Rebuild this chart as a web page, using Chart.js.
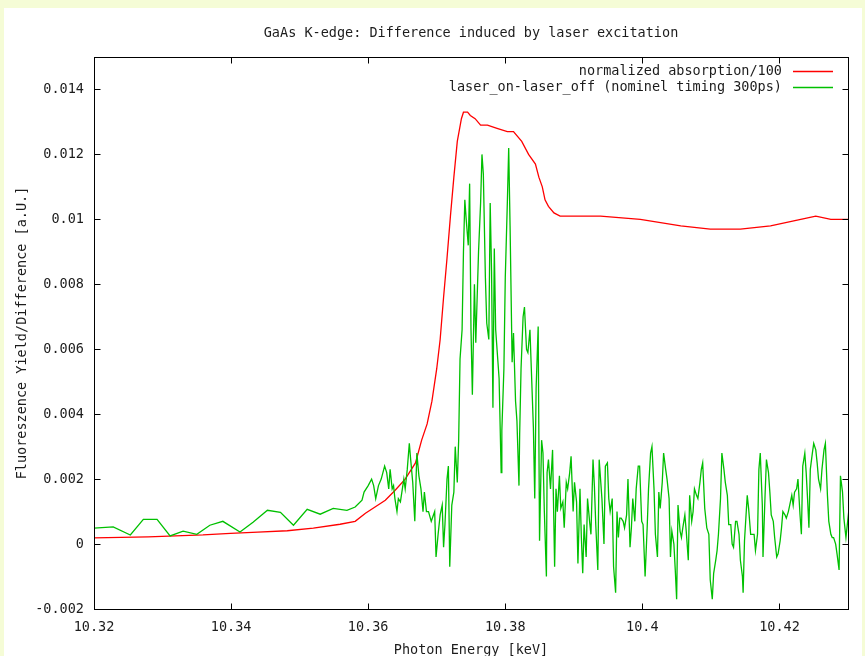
<!DOCTYPE html>
<html>
<head>
<meta charset="utf-8">
<title>GaAs K-edge</title>
<script src="https://cdn.jsdelivr.net/npm/chart.js@4.4.1/dist/chart.umd.min.js"></script>
<style>
  html, body { margin: 0; padding: 0; overflow: hidden; background: #f5fcd6; }
  canvas { display: block; }
</style>
</head>
<body>
<canvas id="edge" width="865" height="670"></canvas>
<script>
// normalized absorption (divided by 100), keV / a.U.
const absEnergy = [
  10.3200, 10.3279, 10.3359, 10.3399, 10.3439, 10.3482, 10.3520, 10.3559, 10.3581, 10.3596,
  10.3610, 10.3625, 10.3639, 10.3654, 10.3669, 10.3678, 10.3686, 10.3693, 10.3700, 10.3705,
  10.3710, 10.3715, 10.3720, 10.3725, 10.3730, 10.3736, 10.3739, 10.3745, 10.3749, 10.3756,
  10.3764, 10.3774, 10.3788, 10.3803, 10.3812, 10.3824, 10.3834, 10.3844, 10.3849, 10.3854,
  10.3858, 10.3863, 10.3871, 10.3880, 10.3902, 10.3939, 10.3997, 10.4056, 10.4099, 10.4143,
  10.4187, 10.4231, 10.4253, 10.4275, 10.4301
];
const absValue = [
  0.00019, 0.00022, 0.00028, 0.00033, 0.00037, 0.00041, 0.00049, 0.00061, 0.00070, 0.00095,
  0.00114, 0.00135, 0.00165, 0.0020, 0.0025, 0.0032, 0.0037, 0.0044, 0.0054, 0.0063,
  0.0076, 0.0088, 0.0101, 0.0113, 0.0124, 0.0131, 0.0133, 0.0133, 0.0132, 0.0131,
  0.0129, 0.0129, 0.0128, 0.0127, 0.0127, 0.0124, 0.0120, 0.0117, 0.0113, 0.0110,
  0.0106, 0.0104, 0.0102, 0.0101, 0.0101, 0.0101, 0.0100, 0.0098, 0.0097, 0.0097,
  0.0098, 0.0100, 0.0101, 0.0100, 0.0100
];

// laser_on - laser_off difference
const diffEnergy = [
  10.3200, 10.3228, 10.3253, 10.3272, 10.3292, 10.3311, 10.3330, 10.3350, 10.3369, 10.3388,
  10.3413, 10.3432, 10.3453, 10.3472, 10.3491, 10.3511, 10.3530, 10.3549, 10.3569, 10.3581,
  10.3591, 10.3594, 10.3600, 10.3605, 10.3608, 10.3611, 10.3615, 10.3619, 10.3624, 10.3627,
  10.3630, 10.3632, 10.3635, 10.3637, 10.3639, 10.3642, 10.3644, 10.3647, 10.3652, 10.3654,
  10.3657, 10.3660, 10.3662, 10.3665, 10.3668, 10.3671, 10.3674, 10.3677, 10.3680, 10.3682,
  10.3685, 10.3688, 10.3692, 10.3697, 10.3699, 10.3702, 10.3705, 10.3708, 10.3710, 10.3712,
  10.3715, 10.3717, 10.3719, 10.3722, 10.3725, 10.3727, 10.3730, 10.3732, 10.3734, 10.3737,
  10.3739, 10.3741, 10.3743, 10.3746, 10.3748, 10.3750, 10.3752, 10.3755, 10.3757, 10.3761,
  10.3764, 10.3766, 10.3768, 10.3771, 10.3773, 10.3776, 10.3778, 10.3780, 10.3782, 10.3784,
  10.3786, 10.3789, 10.3791, 10.3794, 10.3795, 10.3798, 10.3800, 10.3803, 10.3805, 10.3807,
  10.3810, 10.3812, 10.3815, 10.3817, 10.3820, 10.3821, 10.3823, 10.3826, 10.3828, 10.3831,
  10.3833, 10.3836, 10.3838, 10.3841, 10.3843, 10.3845, 10.3848, 10.3850, 10.3853, 10.3855,
  10.3857, 10.3860, 10.3861, 10.3863, 10.3866, 10.3869, 10.3872, 10.3874, 10.3876, 10.3879,
  10.3881, 10.3884, 10.3886, 10.3889, 10.3891, 10.3894, 10.3896, 10.3899, 10.3901, 10.3904,
  10.3906, 10.3909, 10.3911, 10.3913, 10.3915, 10.3918, 10.3920, 10.3923, 10.3925, 10.3928,
  10.3930, 10.3932, 10.3935, 10.3937, 10.3941, 10.3944, 10.3946, 10.3949, 10.3951, 10.3953,
  10.3956, 10.3958, 10.3961, 10.3963, 10.3965, 10.3967, 10.3969, 10.3972, 10.3974, 10.3977,
  10.3979, 10.3982, 10.3984, 10.3986, 10.3989, 10.3991, 10.3994, 10.3996, 10.3999, 10.4001,
  10.4004, 10.4007, 10.4009, 10.4012, 10.4014, 10.4017, 10.4019, 10.4022, 10.4024, 10.4026,
  10.4029, 10.4031, 10.4034, 10.4036, 10.4039, 10.4041, 10.4043, 10.4046, 10.4048, 10.4050,
  10.4052, 10.4055, 10.4057, 10.4059, 10.4062, 10.4064, 10.4067, 10.4069, 10.4072, 10.4074,
  10.4076, 10.4079, 10.4081, 10.4084, 10.4086, 10.4088, 10.4091, 10.4094, 10.4097, 10.4099,
  10.4102, 10.4104, 10.4107, 10.4109, 10.4111, 10.4114, 10.4116, 10.4119, 10.4121, 10.4124,
  10.4126, 10.4129, 10.4131, 10.4133, 10.4136, 10.4138, 10.4141, 10.4143, 10.4146, 10.4147,
  10.4149, 10.4151, 10.4153, 10.4155, 10.4158, 10.4160, 10.4163, 10.4165, 10.4168, 10.4170,
  10.4172, 10.4175, 10.4176, 10.4179, 10.4181, 10.4184, 10.4186, 10.4188, 10.4191, 10.4193,
  10.4196, 10.4198, 10.4201, 10.4203, 10.4205, 10.4208, 10.4210, 10.4213, 10.4215, 10.4218,
  10.4220, 10.4222, 10.4225, 10.4227, 10.4230, 10.4232, 10.4234, 10.4237, 10.4239, 10.4241,
  10.4243, 10.4245, 10.4248, 10.4250, 10.4253, 10.4255, 10.4257, 10.4260, 10.4262, 10.4265,
  10.4267, 10.4270, 10.4272, 10.4275, 10.4277, 10.4279, 10.4282, 10.4284, 10.4287, 10.4289,
  10.4292, 10.4294, 10.4297, 10.4299, 10.4301
];
const diffValue = [
  0.00049, 0.00053, 0.00028, 0.00076, 0.00076, 0.00025, 0.00040, 0.00030, 0.00058, 0.00070,
  0.00037, 0.00067, 0.00104, 0.00098, 0.00058, 0.00107, 0.00092, 0.00110, 0.00104, 0.00114,
  0.00135, 0.0016, 0.0018, 0.0020, 0.0018, 0.0014, 0.0018, 0.0020, 0.0024, 0.0022,
  0.0017, 0.0023, 0.0017, 0.0018, 0.0014, 0.0010, 0.0014, 0.0013, 0.0020, 0.0017,
  0.0023, 0.0031, 0.0026, 0.0019, 0.0007, 0.0028, 0.0021, 0.0017, 0.0010, 0.0016,
  0.0010, 0.0010, 0.0007, 0.0010, -0.0004, 0.0003, 0.0009, 0.0012, -0.0001, 0.0006,
  0.0020, 0.0024, -0.0007, 0.0012, 0.0016, 0.0030, 0.0019, 0.0032, 0.0057, 0.0066,
  0.0090, 0.0106, 0.0100, 0.0092, 0.0111, 0.0066, 0.0046, 0.0080, 0.0062, 0.0090,
  0.0105, 0.0120, 0.0114, 0.0082, 0.0068, 0.0063, 0.0105, 0.0084, 0.0042, 0.0091,
  0.0066, 0.0057, 0.0051, 0.0022, 0.0035, 0.0054, 0.0082, 0.0105, 0.0122, 0.0098,
  0.0056, 0.0065, 0.0044, 0.0038, 0.0018, 0.0034, 0.0054, 0.0070, 0.0073, 0.0060,
  0.0059, 0.0066, 0.0054, 0.0036, 0.0014, 0.0048, 0.0067, 0.0001, 0.0032, 0.0028,
  0.0010, -0.0010, 0.0022, 0.0026, 0.0017, 0.0029, -0.0007, 0.0017, 0.0010, 0.0021,
  0.0011, 0.0013, 0.0005, 0.0019, 0.0017, 0.0022, 0.0027, 0.0010, 0.0019, 0.0013,
  -0.0006, 0.0017, 0.0002, -0.0009, 0.0006, -0.0004, 0.0014, 0.0007, 0.0003, 0.0026,
  0.0018, 0.0006, -0.0008, 0.0026, 0.0014, 0.0000, 0.0024, 0.0025, 0.0014, 0.0010,
  0.0014, -0.0007, -0.0015, 0.0010, 0.0002, 0.0008, 0.0008, 0.0007, 0.0005, 0.0009,
  0.0020, -0.0001, 0.0005, 0.0014, 0.0007, 0.0017, 0.0024, 0.0024, 0.0007, 0.0006,
  -0.0010, 0.0005, 0.0017, 0.0028, 0.0030, 0.0017, 0.0003, -0.0004, 0.0016, 0.0011,
  0.0019, 0.0028, 0.0023, 0.0020, 0.0014, -0.0004, 0.0004, 0.0000, -0.0008, -0.0017,
  0.0012, 0.0004, 0.0002, 0.0005, 0.0009, 0.0004, -0.0005, 0.0015, 0.0007, 0.0010,
  0.0017, 0.0015, 0.0014, 0.0019, 0.0023, 0.0025, 0.0011, 0.0005, 0.0003, -0.0011,
  -0.0017, -0.0009, -0.0005, -0.0002, 0.0003, 0.0014, 0.0028, 0.0023, 0.0019, 0.0015,
  0.0006, 0.0006, 0.0000, -0.0001, 0.0007, 0.0007, 0.0003, -0.0005, -0.0010, -0.0015,
  0.0001, 0.0008, 0.0015, 0.0011, 0.0003, 0.0003, 0.0003, -0.0002, 0.0003, 0.0023,
  0.0028, 0.0012, -0.0004, 0.0015, 0.0026, 0.0022, 0.0016, 0.0009, 0.0007, 0.0002,
  -0.0004, -0.0003, 0.0001, 0.0005, 0.0010, 0.0009, 0.0008, 0.0010, 0.0012, 0.0015,
  0.0012, 0.0016, 0.0017, 0.0020, 0.0009, 0.0003, 0.0024, 0.0028, 0.0022, 0.0014,
  0.0005, 0.0023, 0.0028, 0.0031, 0.0029, 0.0025, 0.0020, 0.0017, 0.0023, 0.0029,
  0.0031, 0.0015, 0.0007, 0.0003, 0.0002, 0.0002, 0.0000, -0.0003, -0.0008, 0.0021,
  0.0016, 0.0008, 0.0002, 0.0006, 0.0010
];

const xTicks = [10.32, 10.34, 10.36, 10.38, 10.40, 10.42];
const xTickLabels = ['10.32', '10.34', '10.36', '10.38', '10.4', '10.42'];
const yTicks = [-0.002, 0, 0.002, 0.004, 0.006, 0.008, 0.010, 0.012, 0.014];
const yTickLabels = ['-0.002', '0', '0.002', '0.004', '0.006', '0.008', '0.01', '0.012', '0.014'];

const FONT = { family: 'DejaVu Sans Mono', size: 13.5 };
const INK = '#1c1c1c';
const LINE_W = 1.3;

function pairs(xs, ys) {
  return xs.map((x, i) => ({ x: x, y: ys[i] }));
}

// yellow page with white sheet behind the plot
const sheet = {
  id: 'sheet',
  beforeDraw(chart) {
    const ctx = chart.ctx;
    ctx.save();
    ctx.fillStyle = '#f5fcd6';
    ctx.fillRect(0, 0, chart.width, chart.height);
    ctx.fillStyle = '#ffffff';
    ctx.fillRect(4, 8, chart.width - 7, chart.height);
    ctx.restore();
  }
};

// gnuplot-style frame: border, inward ticks on all sides, title and key
const frame = {
  id: 'frame',
  afterDraw(chart) {
    const ctx = chart.ctx;
    const a = chart.chartArea;
    const sx = chart.scales.x, sy = chart.scales.y;
    const L = Math.round(a.left) + 0.5, R = Math.round(a.right) + 0.5;
    const T = Math.round(a.top) + 0.5, B = Math.round(a.bottom) + 0.5;
    ctx.save();
    ctx.strokeStyle = '#000';
    ctx.lineWidth = 1;
    ctx.strokeRect(L, T, R - L, B - T);
    ctx.beginPath();
    xTicks.forEach(v => {
      const px = Math.round(sx.getPixelForValue(v)) + 0.5;
      ctx.moveTo(px, B); ctx.lineTo(px, B - 6);
      ctx.moveTo(px, T); ctx.lineTo(px, T + 6);
    });
    yTicks.forEach(v => {
      const py = Math.round(sy.getPixelForValue(v)) + 0.5;
      ctx.moveTo(L, py); ctx.lineTo(L + 6, py);
      ctx.moveTo(R, py); ctx.lineTo(R - 6, py);
    });
    ctx.stroke();

    ctx.fillStyle = INK;
    ctx.font = FONT.size + 'px "' + FONT.family + '"';
    ctx.textBaseline = 'middle';
    ctx.textAlign = 'center';
    ctx.fillText('GaAs K-edge: Difference induced by laser excitation', (a.left + a.right) / 2, 33);

    ctx.textAlign = 'right';
    ctx.lineWidth = LINE_W;
    chart.data.datasets.forEach((ds, i) => {
      const y = 71 + i * 16;
      ctx.fillStyle = INK;
      ctx.fillText(ds.label, 782, y);
      ctx.strokeStyle = ds.borderColor;
      ctx.beginPath();
      ctx.moveTo(793, y + 0.5);
      ctx.lineTo(833, y + 0.5);
      ctx.stroke();
    });
    ctx.restore();
  }
};

new Chart(document.getElementById('edge'), {
  type: 'scatter',
  data: {
    datasets: [{
      label: 'normalized absorption/100',
      data: pairs(absEnergy, absValue),
      borderColor: '#ff0000',
      showLine: true,
      pointRadius: 0,
      borderWidth: LINE_W,
      tension: 0,
      order: 1
    }, {
      label: 'laser_on-laser_off (nominel timing 300ps)',
      data: pairs(diffEnergy, diffValue),
      borderColor: '#00c000',
      showLine: true,
      pointRadius: 0,
      borderWidth: LINE_W,
      tension: 0,
      order: 0
    }]
  },
  options: {
    responsive: false,
    animation: false,
    devicePixelRatio: 1,
    layout: { padding: { top: 57, right: 17, bottom: 0, left: 0 } },
    plugins: {
      legend: { display: false },
      title: { display: false },
      tooltip: { enabled: false }
    },
    scales: {
      x: {
        type: 'linear',
        min: 10.32,
        max: 10.43,
        afterBuildTicks: s => { s.ticks = xTicks.map(v => ({ value: v })); },
        afterFit: s => { s.height = 61; },
        grid: { display: false, drawTicks: false },
        border: { display: false },
        ticks: {
          font: FONT, color: INK, padding: 10, maxRotation: 0, autoSkip: false,
          callback: (v, i) => xTickLabels[i]
        },
        title: {
          display: true, text: 'Photon Energy [keV]', font: FONT, color: INK,
          padding: { top: 0, bottom: 11 }
        }
      },
      y: {
        type: 'linear',
        min: -0.002,
        max: 0.015,
        afterBuildTicks: s => { s.ticks = yTicks.map(v => ({ value: v })); },
        afterFit: s => { s.width = 94; },
        grid: { display: false, drawTicks: false },
        border: { display: false },
        ticks: {
          font: FONT, color: INK, padding: 10, autoSkip: false,
          callback: (v, i) => yTickLabels[i]
        },
        title: {
          display: true, text: 'Fluoreszence Yield/Difference [a.U.]', font: FONT, color: INK,
          padding: { top: 14, bottom: 0 }
        }
      }
    }
  },
  plugins: [sheet, frame]
});
</script>
</body>
</html>
